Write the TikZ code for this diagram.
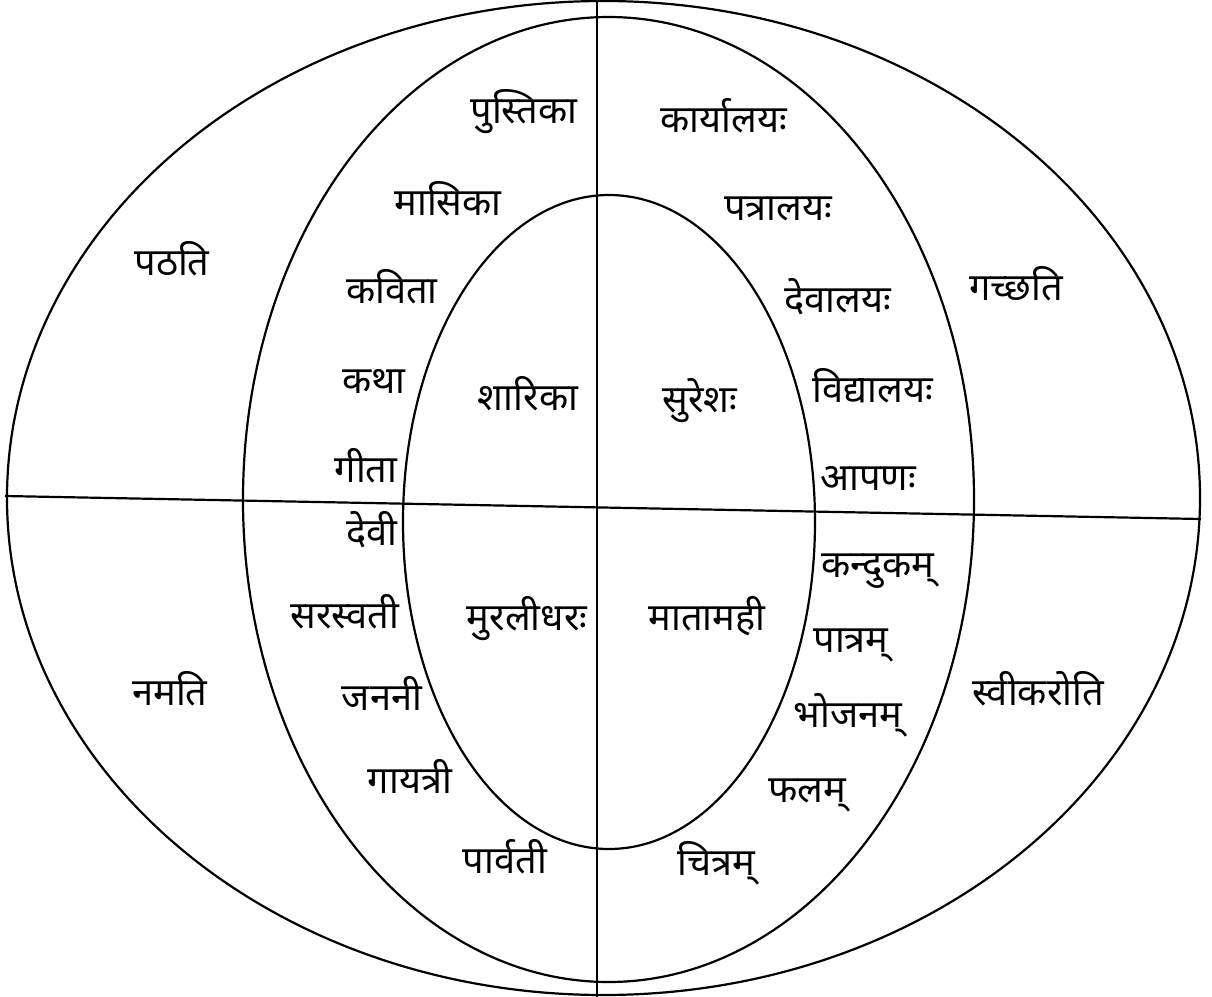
\documentclass[tikz,border=0pt]{standalone}
\usepackage{fontspec}
\newfontfamily\dev[Script=Devanagari]{Noto Sans}
\begin{document}
\begin{tikzpicture}[x=0.5pt,y=-0.5pt,
  ring/.style={line width=1.1pt,black},
  divider/.style={line width=1.1pt,black},
  lbl/.style={anchor=base,inner sep=0pt,font=\dev\fontsize{19pt}{22pt}\selectfont}]
\useasboundingbox (0,0) rectangle (1212,997);
% ellipses
\draw[ring] (603.5,498) ellipse [x radius=596.5, y radius=497];
\draw[ring] (608.5,499.5) ellipse [x radius=365.5, y radius=482.5];
\draw[ring] (609,522) ellipse [x radius=206, y radius=327];
% dividers
\coordinate (vt) at (597,0);
\coordinate (vb) at (597,997);
\coordinate (hl) at (5,496);
\coordinate (hr) at (1201,519);
\draw[divider] (vt) -- (vb);
\draw[divider] (hl) -- (hr);
% outer verbs
\node[lbl] (pathati) at (172,275) {पठति};
\node[lbl] (gacchati) at (1016,300) {गच्छति};
\node[lbl] (namati) at (170,705) {नमति};
\node[lbl] (svikaroti) at (1038,705) {स्वीकरोति};
% inner names
\node[lbl] (sharika) at (528,410) {शारिका};
\node[lbl] (suresha) at (700,412) {सुरेशः};
\node[lbl] (muralidhara) at (527,630) {मुरलीधरः};
\node[lbl] (matamahi) at (707,630) {मातामही};
% upper left objects
\node[lbl] (pustika) at (524,123) {पुस्तिका};
\node[lbl] (masika) at (448,215) {मासिका};
\node[lbl] (kavita) at (392,303) {कविता};
\node[lbl] (katha) at (374,393) {कथा};
\node[lbl] (gita) at (366,482) {गीता};
% upper right objects
\node[lbl] (karyalaya) at (724,132) {कार्यालयः};
\node[lbl] (patralaya) at (778,220) {पत्रालयः};
\node[lbl] (devalaya) at (838,312) {देवालयः};
\node[lbl] (vidyalaya) at (873,402) {विद्यालयः};
\node[lbl] (apana) at (868,490) {आपणः};
% lower left objects
\node[lbl] (devi) at (372,545) {देवी};
\node[lbl] (sarasvati) at (345,628) {सरस्वती};
\node[lbl] (janani) at (382,710) {जननी};
\node[lbl] (gayatri) at (410,793) {गायत्री};
\node[lbl] (parvati) at (505,873) {पार्वती};
% lower right objects
\node[lbl] (kandukam) at (878,577) {कन्दुकम्};
\node[lbl] (patram) at (851,652) {पात्रम्};
\node[lbl] (bhojanam) at (848,727) {भोजनम्};
\node[lbl] (phalam) at (807,802) {फलम्};
\node[lbl] (chitram) at (716,875) {चित्रम्};
\end{tikzpicture}
\end{document}
